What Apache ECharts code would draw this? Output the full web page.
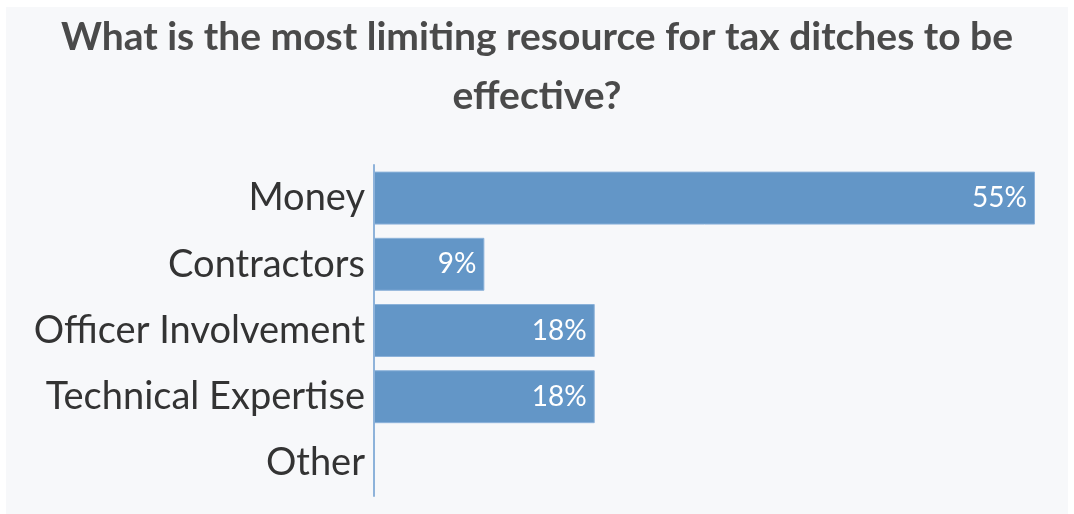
<!DOCTYPE html>
<html>
<head>
<meta charset="utf-8">
<script src="https://cdn.jsdelivr.net/npm/echarts@6/dist/echarts.min.js"></script>
<style>
  html, body { margin: 0; padding: 0; background: #ffffff; }
  #panel { position: absolute; left: 6px; top: 7px; width: 1062px; height: 507px; background: #f7f8fa; }
  #chart { position: absolute; left: 0; top: 0; width: 1074px; height: 514px; }
</style>
</head>
<body>
<div id="panel"></div>
<div id="chart"></div>
<script>
// Survey answers (share of respondents, %)
const categories = ['Money', 'Contractors', 'Officer Involvement', 'Technical Expertise', 'Other'];
const shares = [54.5, 9.1, 18.2, 18.2, 0];
const titleText = 'What is the most limiting resource for tax ditches to be\neffective?';

const chart = echarts.init(document.getElementById('chart'), null, { renderer: 'canvas' });
chart.setOption({
  backgroundColor: 'transparent',
  title: {
    text: titleText,
    left: 'center',
    top: 3,
    textStyle: {
      fontFamily: 'Lato',
      fontWeight: 'bold',
      fontSize: 39,
      lineHeight: 59,
      color: '#4a4a4a'
    }
  },
  grid: { left: 374, right: 39, top: 165, bottom: 18, containLabel: false },
  xAxis: {
    type: 'value',
    min: 0,
    max: 54.5,
    show: false
  },
  yAxis: {
    type: 'category',
    data: categories,
    inverse: true,
    axisLine: { show: true, lineStyle: { color: '#8fb3da', width: 2 } },
    axisTick: { show: false },
    splitLine: { show: false },
    axisLabel: {
      fontFamily: 'Lato',
      fontSize: 38,
      color: '#333333',
      margin: 9
    }
  },
  series: [{
    type: 'bar',
    data: shares,
    barCategoryGap: '20%',
    itemStyle: { color: '#6396c7', borderColor: '#8cb2da', borderWidth: 1 },
    label: {
      show: true,
      position: 'insideRight',
      distance: 8,
      color: '#ffffff',
      fontFamily: 'Lato',
      fontSize: 28,
      formatter: p => p.value > 0 ? Math.round(p.value) + '%' : ''
    },
    silent: true,
    animation: false
  }]
});
</script>
</body>
</html>
